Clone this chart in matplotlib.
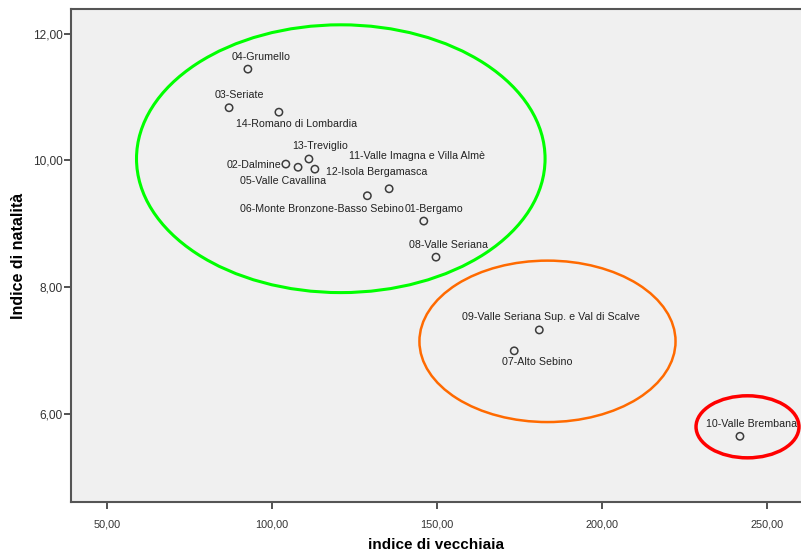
import matplotlib
matplotlib.use("Agg")
import matplotlib.pyplot as plt
from matplotlib.patches import Ellipse

plt.rcParams['font.family'] = ['Liberation Sans', 'DejaVu Sans']

# Ambiti territoriali: indice di vecchiaia vs indice di natalità
ambiti = [
    "01-Bergamo", "02-Dalmine", "03-Seriate", "04-Grumello",
    "05-Valle Cavallina", "06-Monte Bronzone-Basso Sebino", "07-Alto Sebino",
    "08-Valle Seriana", "09-Valle Seriana Sup. e Val di Scalve",
    "10-Valle Brembana", "11-Valle Imagna e Villa Almè",
    "12-Isola Bergamasca", "13-Treviglio", "14-Romano di Lombardia",
]
vecchiaia = [146.0, 104.2, 87.0, 92.7, 107.9, 128.9, 173.4,
             149.7, 181.0, 241.8, 135.5, 113.0, 111.2, 102.1]
natalita = [9.04, 9.94, 10.83, 11.44, 9.89, 9.44, 6.99,
            8.47, 7.32, 5.64, 9.55, 9.86, 10.02, 10.76]

# where SPSS put each label, relative to its point (pixels)
label_offsets = [(10.5, 12.3), (-31.8, -1.4), (10, 13), (13, 12),
                 (-15.2, -14), (-45.3, -13), (23.2, -11), (12.2, 12.3),
                 (11.9, 13.3), (11.7, 12.7), (28.2, 33), (61.7, -2.4),
                 (11.5, 12.6), (18, -12)]

# cluster ellipses drawn by hand: centre, width, height, colour, line width
clusters = [
    ((120.85, 10.025), 123.8, 4.23, "#00ff00", 2.2),
    ((183.48, 7.14), 77.6, 2.55, "#ff6a00", 1.8),
    ((244.09, 5.79), 31.2, 0.98, "#ff0000", 2.5),
]

fig = plt.figure(figsize=(8.01, 5.51), dpi=100)
ax = fig.add_axes([71 / 801, 49.3 / 551, 730 / 801, 492.4 / 551])
ax.set_facecolor("#f0f0f0")

for (cx, cy), w, h, col, lw in clusters:
    ax.add_patch(Ellipse((cx, cy), w, h, fill=False, edgecolor=col, lw=lw, zorder=2))

ax.scatter(vecchiaia, natalita, s=28, facecolors="none", edgecolors="#3c3c3c",
           linewidths=1.1, zorder=3)

for name, x, y, (dx, dy) in zip(ambiti, vecchiaia, natalita, label_offsets):
    ax.annotate(name, (x, y), xytext=(dx, dy), textcoords="offset pixels",
                ha="center", va="center", fontsize=7.7, color="#222222", zorder=4)

ax.set_xlim(39.1, 260.3)
ax.set_ylim(4.607, 12.385)
ax.set_xticks([50, 100, 150, 200, 250])
ax.set_yticks([6, 8, 10, 12])
ax.set_xticklabels(["50,00", "100,00", "150,00", "200,00", "250,00"],
                   fontsize=7.8, color="#333333")
ax.set_yticklabels(["6,00", "8,00", "10,00", "12,00"], fontsize=8.6, color="#333333")
ax.tick_params(axis="both", direction="out", length=5, width=1.2, color="#333333")
ax.tick_params(axis="x", pad=8)
ax.tick_params(axis="y", pad=1)

for side in ["left", "top", "bottom"]:
    ax.spines[side].set_color("#555555")
    ax.spines[side].set_linewidth(1.5)
ax.spines["right"].set_visible(False)

ax.set_xlabel("indice di vecchiaia", fontsize=11, fontweight="bold", labelpad=6)
ax.set_ylabel("Indice di natalità", fontsize=11.5, fontweight="bold", labelpad=5)

fig.savefig("out.png", dpi=100, facecolor="white")
